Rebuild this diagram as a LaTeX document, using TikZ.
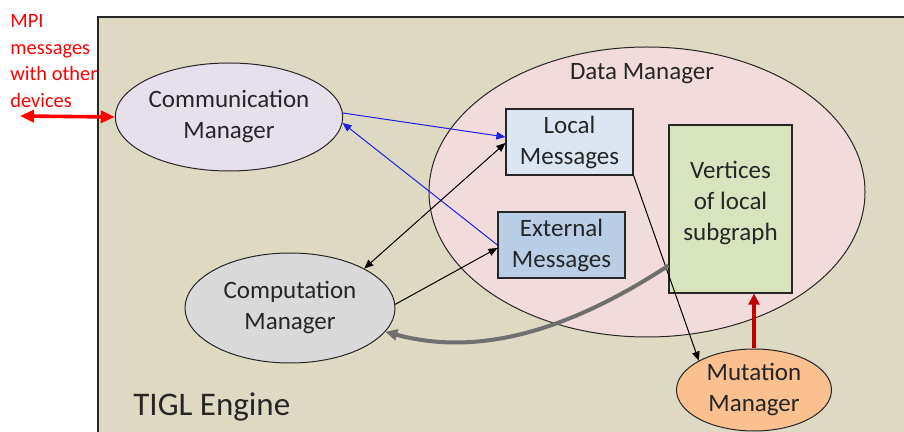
\documentclass[tikz,border=0pt]{standalone}
\usepackage{fontspec}
\setmainfont{Carlito}
\usetikzlibrary{shapes.geometric,arrows.meta,calc}
\definecolor{TiglBeige}{HTML}{DDD9C3}
\definecolor{TiglLine}{HTML}{262626}
\definecolor{TiglLavender}{HTML}{E6E0EC}
\definecolor{TiglGrey}{HTML}{D9D9D9}
\definecolor{TiglPink}{HTML}{F2DCDB}
\definecolor{TiglPaleBlue}{HTML}{DCE6F2}
\definecolor{TiglBlue}{HTML}{B9CDE5}
\definecolor{TiglGreen}{HTML}{D7E4BD}
\definecolor{TiglOrange}{HTML}{FAC090}
\definecolor{TiglRed}{HTML}{FF0000}
\definecolor{TiglDarkRed}{HTML}{C00000}
\definecolor{TiglCurve}{HTML}{6F6F6F}
\definecolor{TiglLink}{HTML}{2020E0}
\tikzset{
  mgr/.style={ellipse,draw=TiglLine,line width=0.5pt,inner sep=0pt,align=center,
    text=TiglLine,font=\fontsize{12.5}{15.5}\selectfont},
  msgbox/.style={rectangle,draw=TiglLine,line width=0.6pt,inner sep=0pt,align=center,
    text=TiglLine,font=\fontsize{12.5}{15.5}\selectfont},
  link/.style={line width=0.5pt,-{Triangle[length=4.5pt,width=3.8pt]}},
}

\begin{document}
\begin{tikzpicture}[x=0.5pt,y=-0.5pt]
      \useasboundingbox (0,0) rectangle (904,432);
      \fill[TiglBeige] (98,17) rectangle (904,432);
      \draw[TiglLine,line width=0.6pt] (98,432) |- (904,17);
      \node[mgr,fill=TiglPink,minimum width=218pt,minimum height=145pt] (data) at (647,192) {};
      \node[text=TiglLine,font=\fontsize{12.5}{15.5}\selectfont] (dmtitle) at (642,74) {Data Manager};
      \node[mgr,fill=TiglLavender,minimum width=106pt,minimum height=54pt] (comm) at (229,117) {Communication\\Manager};
      \node[mgr,fill=TiglGrey,minimum width=105pt,minimum height=55pt] (comp) at (290,308) {Computation\\Manager};
      \node[mgr,fill=TiglOrange,minimum width=77.5pt,minimum height=41pt] (mut) at (754,390) {Mutation\\Manager};
      \node[msgbox,fill=TiglPaleBlue,minimum width=63.5pt,minimum height=33pt] (local) at (569.5,142) {Local\\Messages};
      \node[msgbox,fill=TiglBlue,minimum width=63.5pt,minimum height=33pt] (ext) at (561.5,245) {External\\Messages};
      \node[msgbox,fill=TiglGreen,minimum width=61.5pt,minimum height=84pt,
        label={[align=center,text=TiglLine,font=\fontsize{12.5}{15.5}\selectfont,yshift=3pt]center:Vertices\\of local\\subgraph}] (vert) at (730.5,209) {};
      \node[anchor=west,inner sep=0pt,text=TiglLine,font=\fontsize{16.5}{20}\selectfont] (engine) at (133,407) {TIGL Engine};
      \node[anchor=north west,inner sep=0pt,align=left,text=TiglRed,font=\fontsize{10.2}{13.3}\selectfont] (mpi) at (10,14) {MPI\\messages\\with other\\devices};
      \coordinate (outside) at (20,116);
      \draw[TiglRed,line width=1.8pt,{Triangle[length=7pt,width=6pt]}-{Triangle[length=7pt,width=6pt]}] (outside) -- (comm.west);
      \draw[link,TiglLink] (comm.2) -- ([yshift=2.5pt]local.west);
      \draw[link,TiglLink] (ext.west) -- (comm.-3);
      \draw[link,{Triangle[length=4.5pt,width=3.8pt]}-{Triangle[length=4.5pt,width=3.8pt]}] (comp.28) -- ([yshift=-0.5pt]local.west);
      \draw[link] (comp.2) -- ([yshift=-1.5pt]ext.west);
      \draw[link] (local.south east) -- (mut.152);
      \draw[TiglCurve,line width=2pt,-{Triangle[length=6pt,width=5.5pt]}] ($(vert.south west)+(0,-28)$) .. controls (585,320) and (490,360) .. (comp.-14);
      \draw[TiglDarkRed,line width=2pt,-{Triangle[length=5.5pt,width=5.5pt]}] (mut.north) -- (mut.north |- vert.south);
    \end{tikzpicture}
\end{document}
